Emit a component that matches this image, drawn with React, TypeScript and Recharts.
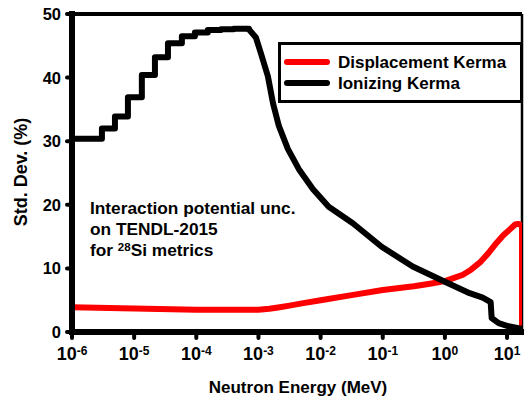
import React from "react";
import { LineChart, Line, XAxis, YAxis, ReferenceLine } from "recharts";

const FONT = "'Liberation Sans', Arial, Helvetica, sans-serif";

// Ionizing kerma std. dev. (%), low-energy groups: each value holds until the next boundary (MeV)
const ionizingLowEnergy = [
  1e-6, 3.03e-6, 4.91e-6, 7.94e-6, 1.33e-5, 2.16e-5, 3.5e-5, 5.86e-5, 9.5e-5, 1.53e-4,
  2.5e-4, 4.0e-4, 7.0e-4,
];
const ionizingLowStdDev = [
  30.4, 32.0, 33.9, 36.9, 40.4, 43.2, 45.4, 46.5, 47.1, 47.5,
  47.6, 47.7, 47.6,
];

// Ionizing kerma std. dev. (%), fine groups above the peak
const ionizingHighEnergy = [
  7.0e-4, 9.1e-4, 1.09e-3, 1.42e-3, 1.71e-3, 2.13e-3, 2.97e-3, 4.47e-3, 7.5e-3, 1.35e-2,
  3.3e-2, 9.6e-2, 0.303, 1.0, 2.5, 4.06, 5.45, 5.65, 7.33, 10.6,
  15.3, 17.4,
];
const ionizingHighStdDev = [
  47.6, 46.3, 43.9, 40.2, 36.0, 32.4, 28.8, 25.6, 22.5, 19.7,
  17.1, 13.4, 10.3, 7.9, 6.1, 5.4, 4.7, 2.2, 1.4, 0.9,
  0.6, 0.5,
];

// Displacement kerma std. dev. (%)
const displacementEnergy = [
  1e-6, 1e-5, 1e-4, 1e-3, 1.5e-3, 2.2e-3, 3.16e-3, 5.0e-3, 1e-2, 3.16e-2,
  0.1, 0.316, 0.575, 1.0, 1.41, 1.95, 2.63, 3.63, 5.01, 6.76,
  8.71, 11.0, 13.5, 15.1, 17.4, 17.4,
];
const displacementStdDev = [
  3.9, 3.7, 3.5, 3.5, 3.65, 3.9, 4.15, 4.5, 5.0, 5.8,
  6.6, 7.2, 7.6, 8.0, 8.5, 9.0, 9.8, 10.9, 12.4, 14.0,
  15.2, 16.1, 16.9, 17.0, 16.8, 0,
];

const xTicks = [1e-6, 1e-5, 1e-4, 1e-3, 1e-2, 1e-1, 1e0, 1e1];
const yTicks = [0, 10, 20, 30, 40, 50];
const xDomain = [1e-6, 17.4];

const toPoints = (es: number[], vs: number[]) => es.map((e, i) => ({ e, v: vs[i] }));
const ionizingLowData = toPoints(ionizingLowEnergy, ionizingLowStdDev);
const ionizingHighData = toPoints(ionizingHighEnergy, ionizingHighStdDev);
const displacementData = toPoints(displacementEnergy, displacementStdDev);

const PowerTick = (props: any) => {
  const { x, y, payload } = props;
  const exp = Math.round(Math.log10(payload.value));
  return (
    <text x={x} y={y + 20} textAnchor="middle" fontFamily={FONT} fontWeight="bold" fontSize={18} fill="#000">
      <tspan>10</tspan>
      <tspan dy={-5} fontSize={12}>{String(exp)}</tspan>
    </text>
  );
};

const ValueTick = (props: any) => {
  const { x, y, payload } = props;
  return (
    <text x={x - 4} y={y} dy={6} textAnchor="end" fontFamily={FONT} fontWeight="bold" fontSize={16.5} fill="#000">
      {payload.value}
    </text>
  );
};

const seriesStyle = {
  strokeWidth: 6,
  strokeLinejoin: "round" as const,
  strokeLinecap: "round" as const,
  dot: false,
  isAnimationActive: false,
};

export default function App() {
  return (
    <div style={{ position: "absolute", left: 0, top: 0, width: 524, height: 400, background: "#fff" }}>
      <LineChart width={524} height={400} margin={{ top: 14, right: 2, bottom: 0, left: 0 }}>
        <XAxis
          dataKey="e"
          type="number"
          scale="log"
          domain={xDomain}
          allowDataOverflow
          ticks={xTicks}
          height={68}
          tickSize={6}
          axisLine={{ stroke: "#000", strokeWidth: 6, strokeLinecap: "square" }}
          tickLine={{ stroke: "#000", strokeWidth: 4, strokeLinecap: "round" }}
          tick={<PowerTick />}
          interval={0}
        />
        <YAxis
          type="number"
          domain={[0, 50]}
          ticks={yTicks}
          width={72}
          tickSize={5}
          axisLine={{ stroke: "#000", strokeWidth: 6, strokeLinecap: "square" }}
          tickLine={{ stroke: "#000", strokeWidth: 4, strokeLinecap: "round" }}
          tick={<ValueTick />}
          interval={0}
        />
        <ReferenceLine y={50} stroke="#000" strokeWidth={4} />
        <ReferenceLine x={17.4} stroke="#000" strokeWidth={2.5} />
        <Line data={displacementData} dataKey="v" type="linear" stroke="#ff0000" {...seriesStyle} />
        <Line data={ionizingLowData} dataKey="v" type="stepAfter" stroke="#000" {...seriesStyle} />
        <Line data={ionizingHighData} dataKey="v" type="linear" stroke="#000" {...seriesStyle} />
      </LineChart>
      <svg
        width={524}
        height={400}
        style={{ position: "absolute", left: 0, top: 0, pointerEvents: "none" }}
        fontFamily={FONT}
        fontWeight="bold"
      >
        <text x={27} y={172} transform="rotate(-90 27 172)" textAnchor="middle" fontSize={18} fill="#000">
          Std. Dev. (%)
        </text>
        <text x={298} y={393} textAnchor="middle" fontSize={17} fill="#000">
          Neutron Energy (MeV)
        </text>
        <g>
          <rect x={279.5} y={43.5} width={242} height={58} fill="#fff" stroke="#000" strokeWidth={3} />
          <line x1={287} y1={62} x2={327} y2={62} stroke="#ff0000" strokeWidth={6} strokeLinecap="round" />
          <line x1={287} y1={83} x2={327} y2={83} stroke="#000" strokeWidth={6} strokeLinecap="round" />
          <text x={338} y={68} fontSize={17} fill="#000">Displacement Kerma</text>
          <text x={338} y={89} fontSize={17} fill="#000">Ionizing Kerma</text>
        </g>
        <g fontSize={17.3} fill="#000">
          <text x={90} y={214}>Interaction potential unc.</text>
          <text x={90} y={235}>on TENDL-2015</text>
          <text x={90} y={256}>
            <tspan>for </tspan>
            <tspan fontSize={11.5} dy={-5}>28</tspan>
            <tspan dy={5}>Si metrics</tspan>
          </text>
        </g>
      </svg>
    </div>
  );
}
